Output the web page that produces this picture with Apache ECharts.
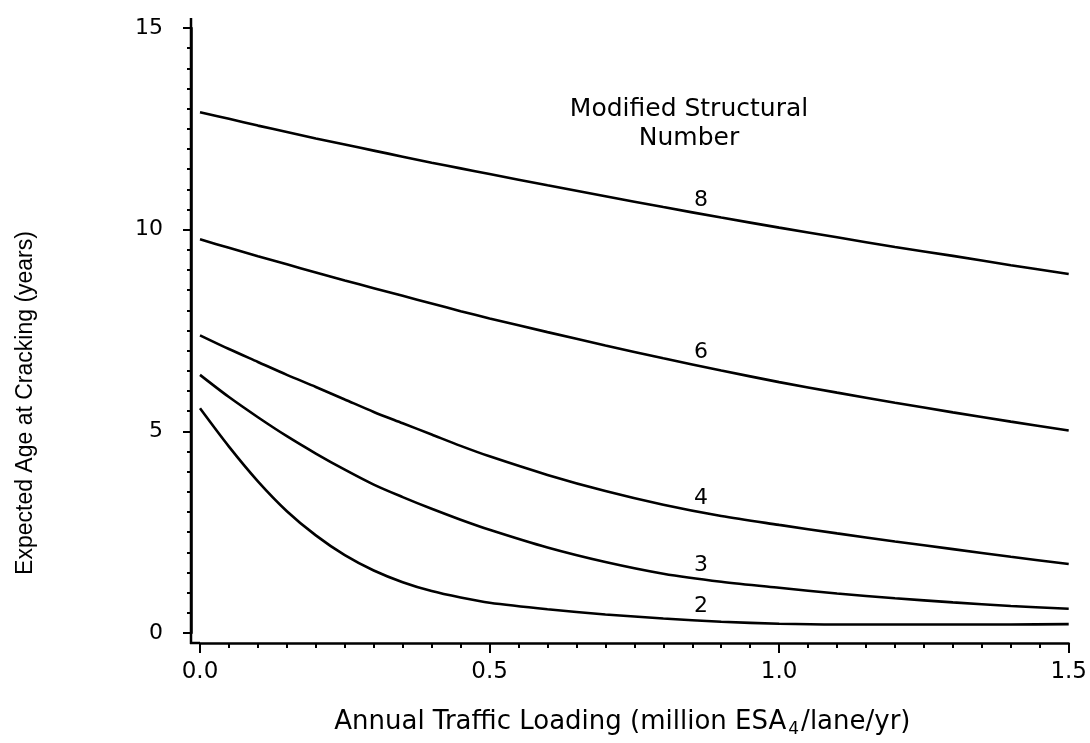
<!DOCTYPE html>
<html>
<head>
<meta charset="utf-8">
<script src="https://cdn.jsdelivr.net/npm/echarts@6/dist/echarts.min.js"></script>
<style>
html,body{margin:0;padding:0;background:#fff;}
#chart{width:1090px;height:743px;}
</style>
</head>
<body>
<div id="chart"></div>
<script>
// ---- data ----
const loading = [0, 0.05, 0.1, 0.15, 0.2, 0.25, 0.3, 0.35, 0.4, 0.45, 0.5, 0.6, 0.7, 0.8, 0.9, 1.0, 1.1, 1.2, 1.3, 1.4, 1.5];
const sn8 = [12.91, 12.75, 12.58, 12.42, 12.26, 12.11, 11.96, 11.81, 11.66, 11.52, 11.38, 11.10, 10.83, 10.56, 10.30, 10.05, 9.81, 9.57, 9.35, 9.12, 8.90];
const sn6 = [9.76, 9.55, 9.34, 9.14, 8.94, 8.74, 8.55, 8.36, 8.17, 7.98, 7.80, 7.46, 7.13, 6.81, 6.51, 6.22, 5.96, 5.71, 5.47, 5.24, 5.02];
const sn4 = [7.38, 7.04, 6.72, 6.40, 6.10, 5.79, 5.48, 5.20, 4.92, 4.64, 4.38, 3.92, 3.52, 3.18, 2.90, 2.68, 2.47, 2.27, 2.08, 1.89, 1.71];
const sn3 = [6.40, 5.85, 5.35, 4.88, 4.45, 4.05, 3.68, 3.37, 3.08, 2.81, 2.56, 2.12, 1.76, 1.47, 1.27, 1.12, 0.98, 0.86, 0.76, 0.67, 0.60];
const sn2 = [5.57, 4.62, 3.76, 3.02, 2.42, 1.93, 1.55, 1.26, 1.04, 0.88, 0.75, 0.59, 0.46, 0.36, 0.28, 0.23, 0.21, 0.21, 0.21, 0.21, 0.22];
const curveNames = ['8', '6', '4', '3', '2'];
const curveValues = [sn8, sn6, sn4, sn3, sn2];
const labelAt = 0.865;
const yTicks = [0, 5, 10, 15];
const xTickLabels = ['0.0', '0.5', '1.0', '1.5'];
const legendTitle = 'Modified Structural\nNumber';
const xTitle = 'Annual Traffic Loading (million ESA{sub|4}/lane/yr)';
const yTitle = 'Expected Age at Cracking (years)';

function interp(xs, ys, x) {
  for (let i = 0; i < xs.length - 1; i++) {
    if (x >= xs[i] && x <= xs[i + 1]) {
      const t = (x - xs[i]) / (xs[i + 1] - xs[i]);
      return ys[i] + t * (ys[i + 1] - ys[i]);
    }
  }
  return ys[ys.length - 1];
}

const FONT = 'DejaVu Sans';
const chart = echarts.init(document.getElementById('chart'), null, {renderer: 'canvas'});

const series = curveNames.map((name, k) => ({
  name: name,
  type: 'line',
  smooth: 0.3,
  showSymbol: false,
  symbol: 'none',
  lineStyle: {color: '#000', width: 2.6},
  data: loading.map((x, i) => [x, curveValues[k][i]]),
  markPoint: {
    symbol: 'circle',
    symbolSize: 0,
    label: {
      show: true,
      position: 'top',
      distance: 3,
      formatter: name,
      color: '#000',
      fontFamily: FONT,
      fontSize: 22
    },
    data: [{coord: [labelAt, interp(loading, curveValues[k], labelAt)]}]
  }
}));

chart.setOption({
  animation: false,
  backgroundColor: '#fff',
  title: {
    text: legendTitle,
    left: 684,
    top: 90,
    textAlign: 'center',
    textStyle: {
      color: '#000', fontFamily: FONT, fontWeight: 'normal', fontSize: 25, lineHeight: 29
    }
  },
  grid: {left: 200, right: 18, top: 28, bottom: 106, containLabel: false},
  xAxis: {
    type: 'value',
    min: 0, max: 1.5, interval: 0.5,
    offset: 10,
    name: xTitle,
    nameLocation: 'middle',
    nameGap: 64,
    nameTextStyle: {
      color: '#000', fontFamily: FONT, fontSize: 26, padding: [0, 24, 0, 0],
      rich: {sub: {fontFamily: FONT, fontSize: 17, verticalAlign: 'bottom', padding: [14, 2, 0, 2], color: '#000'}}
    },
    axisLine: {show: true, onZero: false, lineStyle: {color: '#000', width: 2.5}},
    axisTick: {show: true, inside: false, length: 10, lineStyle: {color: '#000', width: 2}},
    minorTick: {show: true, splitNumber: 10, length: 5, lineStyle: {color: '#000', width: 2}},
    splitLine: {show: false},
    axisLabel: {
      color: '#000', fontFamily: FONT, fontSize: 23, margin: 18,
      formatter: v => xTickLabels[Math.round(v / 0.5)]
    }
  },
  yAxis: {
    type: 'value',
    min: 0, max: 15, interval: 5,
    offset: 9,
    axisLine: {show: true, onZero: false, lineStyle: {color: '#000', width: 2.5}},
    axisTick: {show: true, inside: false, length: 8, lineStyle: {color: '#000', width: 2}},
    minorTick: {show: true, splitNumber: 10, length: 4, lineStyle: {color: '#000', width: 2}},
    splitLine: {show: false},
    axisLabel: {
      color: '#000', fontFamily: FONT, fontSize: 22, margin: 28,
      formatter: v => (yTicks.indexOf(v) >= 0 ? String(v) : '')
    }
  },
  series: series
});

// y-axis title, axis corner joins (positions taken from the chart's own scales)
const origin = chart.convertToPixel({gridIndex: 0}, [0, 0]);
const top15 = chart.convertToPixel({gridIndex: 0}, [0, 15]);
const yLineX = origin[0] - 9;
const xLineY = origin[1] + 10;
chart.setOption({
  graphic: [
    {type: 'line', shape: {x1: yLineX, y1: top15[1] - 10, x2: yLineX, y2: xLineY + 1}, style: {stroke: '#000', lineWidth: 2.5}, silent: true},
    {type: 'line', shape: {x1: yLineX - 1, y1: xLineY, x2: origin[0], y2: xLineY}, style: {stroke: '#000', lineWidth: 2.5}, silent: true},
    {
      type: 'text',
      x: 26, y: 403,
      rotation: Math.PI / 2,
      style: {
        text: yTitle, fill: '#000', font: '23px "Liberation Sans"',
        textAlign: 'center', textVerticalAlign: 'middle'
      },
      silent: true
    }
  ]
});
</script>
</body>
</html>
